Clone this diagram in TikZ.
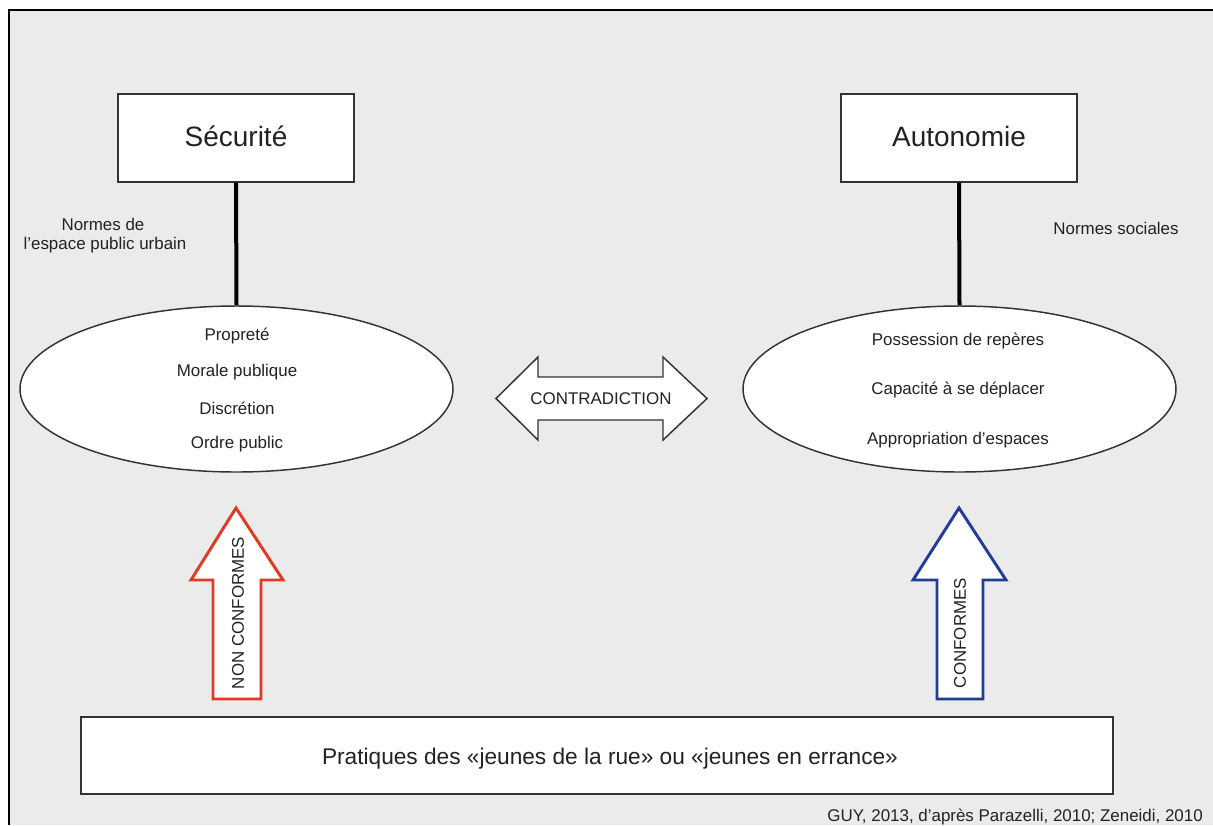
\documentclass[tikz,border=0pt]{standalone}
\usepackage{fontspec}
\setmainfont{Liberation Sans}
\usetikzlibrary{shapes.geometric}
\definecolor{bg}{HTML}{EBEBEB}
\definecolor{txt}{HTML}{222222}
\definecolor{edge}{HTML}{333333}
\definecolor{redarrow}{HTML}{E23A22}
\definecolor{bluearrow}{HTML}{213E96}
\tikzset{
  lbl/.style={text=txt, inner sep=0pt, font=\fontsize{12.7}{15}\selectfont},
  titlebox/.style={draw=edge, line width=1.1pt, fill=white, text=txt, inner sep=0pt,
    minimum width=177pt, minimum height=66pt, font=\fontsize{21}{25}\selectfont},
  ellbox/.style={ellipse, draw=edge, line width=1.1pt, fill=white, inner sep=0pt,
    minimum width=324.75pt, minimum height=124.5pt},
  conn/.style={line width=3pt, black},
  bigarrow/.style={line width=2.2pt, fill=white, line join=miter},
}
\begin{document}
\begin{tikzpicture}[x=0.75pt,y=-0.75pt]
\useasboundingbox (0,0) rectangle (1213,825);
% frame
\fill[bg] (9,10) rectangle (1213,825);
\draw[line width=1.5pt, black] (9,825) -- (9,10) -- (1213,10);

% title boxes
\node[titlebox] (secu) at (236,138) {};
\node[titlebox] (auto) at (959,138) {};
\node[text=txt, inner sep=0pt, font=\fontsize{21}{25}\selectfont] (secut) at (236,136) {Sécurité};
\node[text=txt, inner sep=0pt, font=\fontsize{21}{25}\selectfont] (autot) at (959,136) {Autonomie};

% ellipses
\node[ellbox] (ell1) at (236.5,389) {};
\node[ellbox] (ell2) at (959.5,389) {};

% connectors
\draw[conn] (secu.south) -- (ell1.north);
\draw[conn] (auto.south) -- (ell2.north);

% side labels
\node[lbl] (normes1a) at (103,224) {Normes de};
\node[lbl] (normes1b) at (105,245) {l’espace public urbain};
\node[lbl] (normes2) at (1116,228) {Normes sociales};

% left ellipse texts
\node[lbl] (t1) at (237,336) {Propreté};
\node[lbl] (t2) at (237,372) {Morale publique};
\node[lbl] (t3) at (237,408) {Discrétion};
\node[lbl] (t4) at (237,444) {Ordre public};

% right ellipse texts
\node[lbl] (r1) at (958,341) {Possession de repères};
\node[lbl] (r2) at (958,390) {Capacité à se déplacer};
\node[lbl] (r3) at (958,440) {Appropriation d’espaces};

% contradiction double arrow
\draw[edge, line width=1.1pt, fill=white, line join=miter]
  (496,398.5) -- (538,357) -- (538,377) -- (663,377) -- (663,357) -- (707,398.5)
  -- (663,440) -- (663,420) -- (538,420) -- (538,440) -- cycle;
\node[lbl] (contra) at (601,399) {CONTRADICTION};

% red arrow
\draw[bigarrow, draw=redarrow]
  (236,508) -- (283,580) -- (261,580) -- (261,699) -- (213,699) -- (213,580) -- (191,580) -- cycle;
\node[lbl, rotate=90] (nonconf) at (238,613) {NON CONFORMES};

% blue arrow
\draw[bigarrow, draw=bluearrow]
  (959,508) -- (1006,580) -- (983,580) -- (983,699) -- (937,699) -- (937,580) -- (913,580) -- cycle;
\node[lbl, rotate=90] (conf) at (960,633) {CONFORMES};

% bottom box
\node[draw=edge, line width=1.1pt, fill=white, inner sep=0pt,
  minimum width=774pt, minimum height=57.75pt] (pratbox) at (597,755.5) {};
\node[text=txt, inner sep=0pt, font=\fontsize{17}{20}\selectfont] (prat) at (610,759)
  {Pratiques des «jeunes de la rue» ou «jeunes en errance»};

% credit
\node[lbl, anchor=east] (credit) at (1203,817) {GUY, 2013, d’après Parazelli, 2010; Zeneidi, 2010};
\end{tikzpicture}
\end{document}
